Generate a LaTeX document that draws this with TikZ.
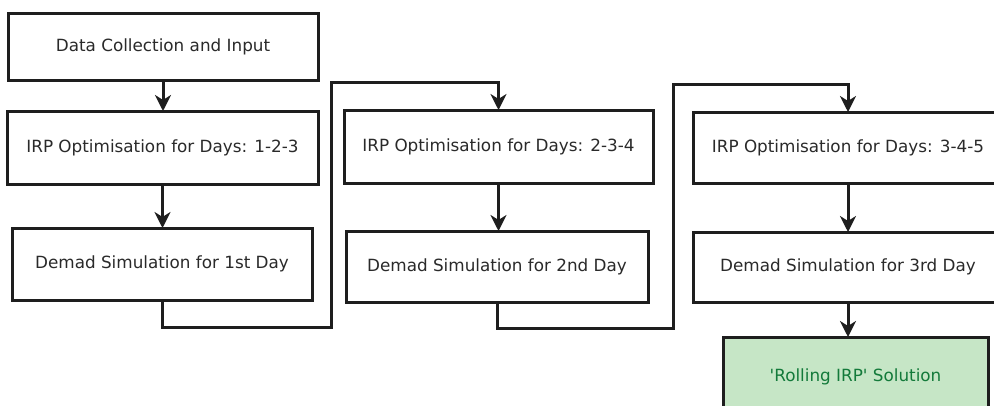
\documentclass[tikz,border=0pt]{standalone}
\usepackage{fontspec}
\setmainfont{DejaVu Sans}
\usetikzlibrary{arrows.meta}
\definecolor{linecol}{HTML}{1E1E1E}
\definecolor{textcol}{HTML}{2A2A2A}
\definecolor{solfill}{HTML}{C6E6C6}
\definecolor{soltext}{HTML}{137A3A}
\tikzset{
  stepbox/.style={draw=linecol, line width=3pt, fill=white, text=textcol,
    font=\fontsize{16.8}{20}\selectfont, inner sep=0pt, outer sep=0pt},
  solbox/.style={stepbox, fill=solfill, text=soltext},
  flow/.style={draw=linecol, line width=3pt,
    -{Stealth[length=16pt, width=16pt, inset=5pt]}},
}
\begin{document}
\begin{tikzpicture}[x=1pt, y=-1pt]
  \useasboundingbox (0,0) rectangle (994,405);
  \clip (0,0) rectangle (994,405);
  \fill[white] (0,0) rectangle (994,405);

  % first column
  \node[stepbox, minimum width=310pt, minimum height=67pt] (data) at (163,46.5) {Data Collection and Input};
  \node[stepbox, minimum width=311pt, minimum height=73pt] (opt1) at (162.5,147.5) {IRP Optimisation for Days: 1-2-3};
  \node[stepbox, minimum width=300pt, minimum height=72pt] (sim1) at (162,264) {Demad Simulation for 1st Day};

  % second column
  \node[stepbox, minimum width=309pt, minimum height=73pt] (opt2) at (498.5,146.5) {IRP Optimisation for Days: 2-3-4};
  \node[stepbox, minimum width=302pt, minimum height=71pt] (sim2) at (497,266.5) {Demad Simulation for 2nd Day};

  % third column
  \node[stepbox, minimum width=310pt, minimum height=71pt] (opt3) at (848,147.5) {IRP Optimisation for Days: 3-4-5};
  \node[stepbox, minimum width=310pt, minimum height=70pt] (sim3) at (848,267) {Demad Simulation for 3rd Day};
  \node[solbox, minimum width=265pt, minimum height=80pt] (sol) at (855.5,377)
    {\textquotesingle Rolling IRP\textquotesingle\ Solution};

  % routing corners between columns
  \coordinate (r1a) at (331,327);
  \coordinate (r1b) at (331,82);
  \coordinate (r2a) at (673,328);
  \coordinate (r2b) at (673,84);

  % connectors
  \draw[flow] (data.south) -- (data.south |- opt1.north);
  \draw[flow] (opt1.south) -- (opt1.south |- sim1.north);
  \draw[flow] (sim1.south) |- (r1a) -- (r1b) -| (opt2.north);
  \draw[flow] (opt2.south) -- (opt2.south |- sim2.north);
  \draw[flow] (sim2.south) |- (r2a) -- (r2b) -| (opt3.north);
  \draw[flow] (opt3.south) -- (opt3.south |- sim3.north);
  \draw[flow] (sim3.south) -- (sim3.south |- sol.north);
\end{tikzpicture}
\end{document}
